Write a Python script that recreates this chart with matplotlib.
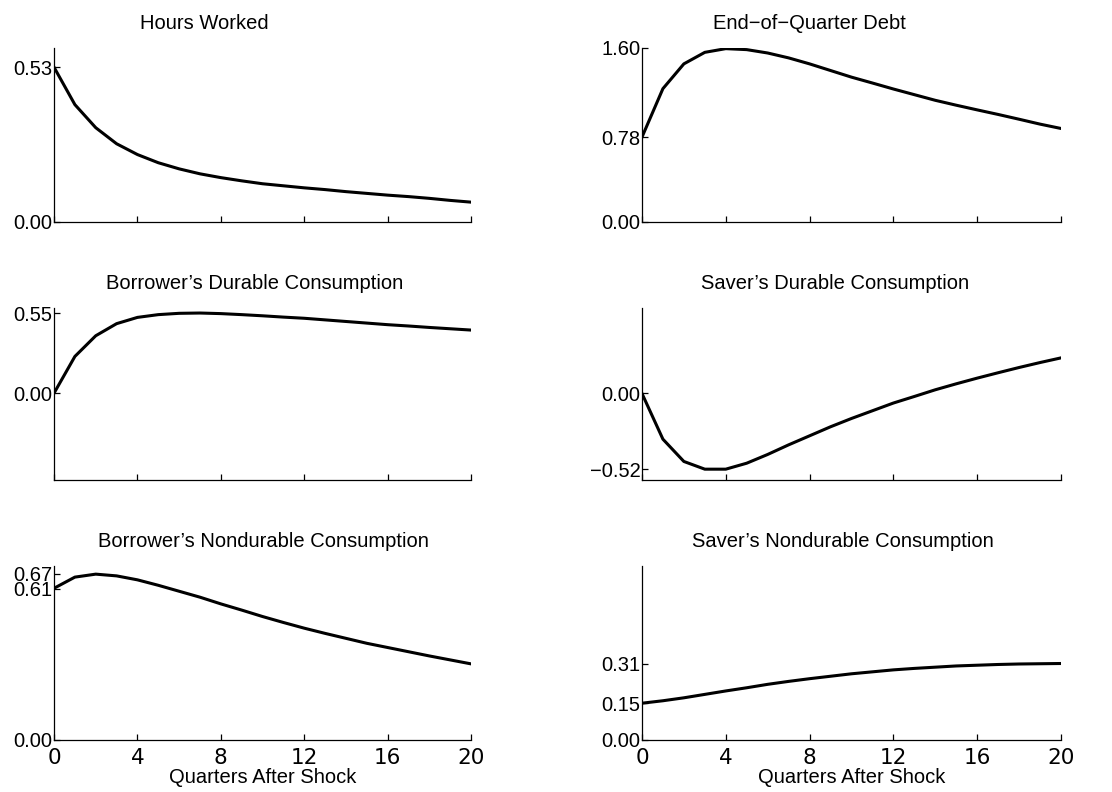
import matplotlib
matplotlib.use("Agg")
import matplotlib.pyplot as plt

plt.rcParams["font.family"] = ["Liberation Sans", "DejaVu Sans"]
plt.rcParams["font.size"] = 14.5
plt.rcParams["axes.unicode_minus"] = True

quarters = list(range(21))

hours_worked = [0.53, 0.402, 0.323, 0.268, 0.231, 0.203, 0.182, 0.165, 0.152, 0.141,
                0.131, 0.124, 0.117, 0.111, 0.104, 0.098, 0.092, 0.087, 0.081, 0.074, 0.068]
debt = [0.78, 1.226, 1.454, 1.56, 1.594, 1.585, 1.554, 1.509, 1.454, 1.393,
        1.332, 1.278, 1.223, 1.171, 1.119, 1.074, 1.031, 0.989, 0.945, 0.90, 0.86]
borrower_durable = [0.0, 0.252, 0.394, 0.477, 0.52, 0.539, 0.548, 0.55, 0.546, 0.539,
                    0.531, 0.522, 0.514, 0.503, 0.492, 0.481, 0.47, 0.461, 0.451, 0.442, 0.433]
saver_durable = [0.0, -0.314, -0.467, -0.52, -0.52, -0.479, -0.419, -0.353, -0.291, -0.229,
                 -0.172, -0.119, -0.066, -0.021, 0.025, 0.066, 0.105, 0.142, 0.178, 0.212, 0.244]
borrower_nondurable = [0.612, 0.657, 0.669, 0.662, 0.646, 0.624, 0.60, 0.576, 0.549, 0.524,
                       0.498, 0.474, 0.451, 0.43, 0.41, 0.39, 0.373, 0.356, 0.339, 0.323, 0.307]
saver_nondurable = [0.15, 0.16, 0.172, 0.186, 0.20, 0.213, 0.227, 0.239, 0.25, 0.26,
                    0.27, 0.278, 0.286, 0.292, 0.297, 0.302, 0.305, 0.308, 0.31, 0.311, 0.312]

titles = ["Hours Worked", "End\u2212of\u2212Quarter Debt",
          "Borrower\u2019s Durable Consumption", "Saver\u2019s Durable Consumption",
          "Borrower\u2019s Nondurable Consumption", "Saver\u2019s Nondurable Consumption"]
series = [hours_worked, debt, borrower_durable, saver_durable,
          borrower_nondurable, saver_nondurable]
y_ticks = [[0.0, 0.53], [0.0, 0.78, 1.60], [0.0, 0.55], [-0.52, 0.0],
           [0.0, 0.61, 0.67], [0.0, 0.15, 0.31]]
y_limits = [(0, 0.596), (0, 1.60), (-0.596, 0.585), (-0.594, 0.587), (0, 0.702), (0, 0.71)]
x_ticks = [0, 4, 8, 12, 16, 20]

# axes boxes in figure fractions
col_left = [0.0486, 0.5773]
col_width = [0.375, 0.3768]
row_bottom = [0.7197, 0.394, 0.0657]
row_height = [0.2197, 0.2172, 0.2197]
title_x = [0.36, 0.40, 0.482, 0.46, 0.503, 0.48]


def fmt(v):
    return ("%.2f" % v).replace("-", "\u2212")


fig = plt.figure(figsize=(11.12, 7.92), dpi=100)

for i in range(6):
    r, c = divmod(i, 2)
    ax = fig.add_axes([col_left[c], row_bottom[r], col_width[c], row_height[r]])
    ax.plot(quarters, series[i], color="black", linewidth=2.2)
    ax.set_xlim(0, 20)
    ax.set_ylim(*y_limits[i])
    ax.set_xticks(x_ticks)
    ax.set_yticks(y_ticks[i])
    ax.set_yticklabels([fmt(v) for v in y_ticks[i]])
    ax.spines["top"].set_visible(False)
    ax.spines["right"].set_visible(False)
    ax.spines["left"].set_linewidth(0.9)
    ax.spines["bottom"].set_linewidth(0.9)
    ax.tick_params(axis="both", direction="in", length=4, width=0.9)
    ax.tick_params(axis="y", pad=1)
    ax.tick_params(axis="x", pad=5.5)
    if r < 2:
        ax.set_xticklabels([])
    else:
        ax.set_xticklabels([str(t) for t in x_ticks], family="DejaVu Sans", fontsize=15.5)
        ax.set_xlabel("Quarters After Shock", labelpad=0.5)
    ax.text(title_x[i], 1.14, titles[i], transform=ax.transAxes,
            ha="center", va="center")

fig.savefig("out.png", dpi=100)
